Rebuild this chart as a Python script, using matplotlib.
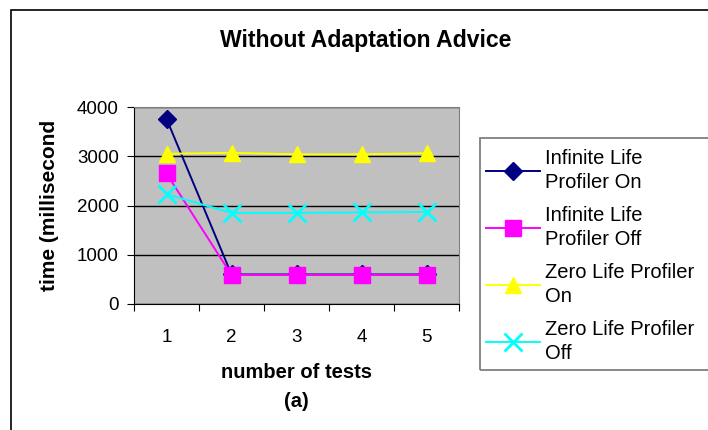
import numpy as np
import matplotlib.pyplot as plt
from matplotlib.patches import Rectangle

plt.rcParams['font.family'] = ['Liberation Sans', 'DejaVu Sans']

tests = [1, 2, 3, 4, 5]
inf_on = [3760, 600, 600, 600, 600]
inf_off = [2650, 590, 590, 590, 590]
zero_on = [3050, 3070, 3040, 3040, 3060]
zero_off = [2230, 1850, 1850, 1860, 1870]
labels = ['Infinite Life\nProfiler On', 'Infinite Life\nProfiler Off',
          'Zero Life Profiler\nOn', 'Zero Life Profiler\nOff']

fig = plt.figure(figsize=(7.08, 4.30), dpi=100)
ax = fig.add_axes([134 / 708, 1 - 304 / 430, 325 / 708, 197 / 430])
ax.set_facecolor('#c0c0c0')

ax.plot(tests, inf_on, color='#000080', marker='D', markersize=9.5, lw=1.4, label=labels[0])
ax.plot(tests, inf_off, color='#ff00ff', marker='s', markersize=11, lw=1.4, label=labels[1])
ax.plot(tests, zero_on, color='#ffff00', marker='^', markersize=12, lw=1.4, label=labels[2])
ax.plot(tests, zero_off, color='#00ffff', marker='x', markersize=13, mew=2, lw=1.4, label=labels[3])

ax.set_xlim(0.5, 5.5)
ax.set_ylim(0, 4000)
ax.set_yticks([0, 1000, 2000, 3000, 4000])
ax.yaxis.grid(True, color='black', lw=1)
ax.set_axisbelow(True)
ax.set_xticks(np.arange(0.5, 6, 1))
ax.set_xticklabels([])
ax.set_xticks(tests, minor=True)
ax.set_xticklabels([str(t) for t in tests], minor=True)
ax.tick_params(axis='x', which='minor', length=0, pad=18, labelsize=13.5)
ax.tick_params(axis='x', which='major', length=5, direction='out')
ax.tick_params(axis='y', length=5, direction='out', labelsize=13.5, pad=6)
for s in ['top', 'right']:
    ax.spines[s].set_color('#808080')

ax.set_xlabel('number of tests\n(a)', fontsize=14.5, fontweight='bold', labelpad=12, linespacing=1.72)
ax.set_ylabel('time (millisecond', fontsize=15, fontweight='bold', labelpad=13)

fig.text(366 / 708, 1 - 40 / 430, 'Without Adaptation Advice', ha='center', va='center',
         fontsize=16.6, fontweight='bold')

leg = fig.legend(loc='upper left', bbox_to_anchor=(480 / 708, 1 - 143 / 430), fontsize=14.5,
                 frameon=False, handlelength=2.7, handletextpad=0.25, labelspacing=0.7,
                 borderaxespad=0, borderpad=0.3)
for t in leg.get_texts():
    t.set_linespacing(1.33)

# legend frame runs past the right edge, like the original
fig.patches.append(Rectangle((480 / 708, 1 - 370 / 430), 0.5, 232 / 430, transform=fig.transFigure,
                             fill=False, edgecolor='#808080', lw=1.3))
fig.patches.append(Rectangle((11 / 708, -0.1), 1.2, 1 - 10 / 430 + 0.1, transform=fig.transFigure,
                             fill=False, edgecolor='black', lw=1.2))

plt.savefig('out.png', dpi=100)
